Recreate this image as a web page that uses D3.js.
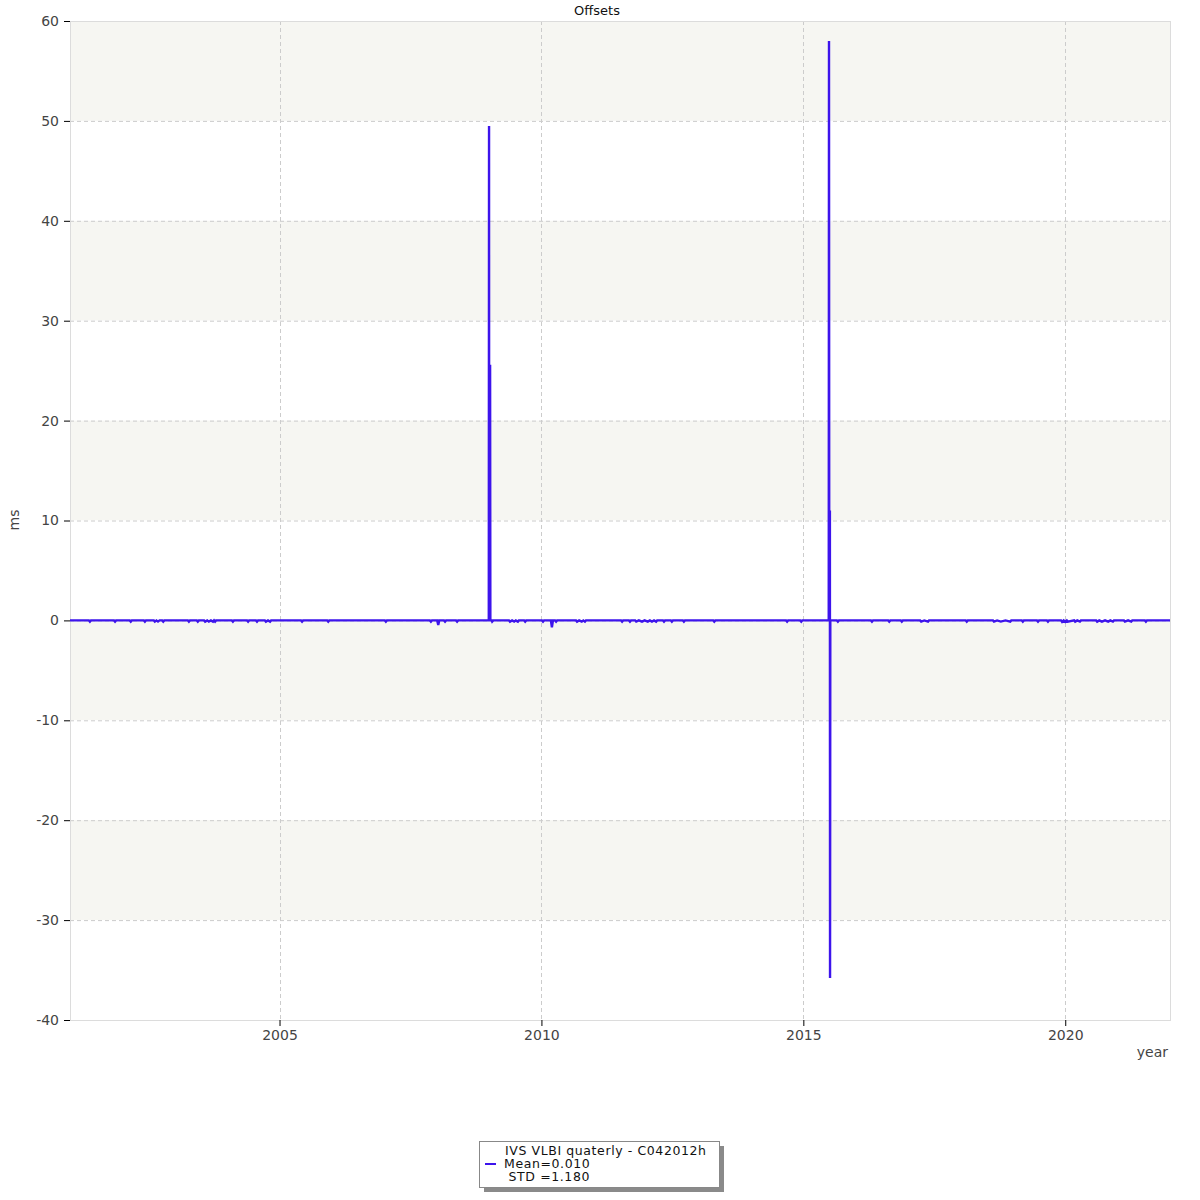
<!DOCTYPE html>
<html><head><meta charset="utf-8">
<script src="https://cdn.jsdelivr.net/npm/d3@7"></script>
<style>body{margin:0;background:#fff}svg{display:block}text{font-family:"DejaVu Sans",Verdana,sans-serif}</style>
</head><body>
<svg id="c" width="1200" height="1200"></svg>
<script>
// Session epochs (decimal year) and offsets (ms)
const sessionYears = [
 2001.00,2001.36,2001.38,2001.40,2001.84,2001.86,2001.88,2002.14,2002.16,2002.18,2002.41,2002.43,2002.45,
 2002.60,2002.62,2002.65,2002.68,2002.71,2002.76,2002.78,2002.80,2003.25,2003.27,2003.29,2003.42,2003.44,2003.46,
 2003.56,2003.58,2003.62,2003.65,2003.69,2003.73,2003.75,2003.77,2003.79,2004.09,2004.11,2004.13,2004.38,2004.40,2004.42,
 2004.55,2004.57,2004.59,2004.72,2004.74,2004.78,2004.82,2004.84,2005.41,2005.43,2005.45,2005.91,2005.93,2005.95,
 2007.01,2007.03,2007.05,2007.87,2007.89,2007.91,2008.01,2008.03,2008.05,2008.14,2008.16,2008.18,2008.37,2008.39,2008.41,
 2008.995,2009.00,2009.002,2009.018,2009.02,2009.025,2009.05,2009.06,2009.08,2009.38,2009.40,2009.44,2009.48,2009.51,2009.55,2009.57,
 2009.67,2009.69,2009.71,2010.01,2010.03,2010.05,2010.18,2010.20,2010.22,2010.26,2010.28,2010.30,
 2010.66,2010.68,2010.72,2010.77,2010.80,2010.83,2010.85,2011.52,2011.54,2011.56,2011.67,2011.69,2011.71,
 2011.79,2011.81,2011.86,2011.92,2011.97,2012.03,2012.07,2012.11,2012.15,2012.19,2012.21,2012.32,2012.34,2012.36,
 2012.47,2012.49,2012.51,2012.70,2012.72,2012.74,2013.28,2013.30,2013.32,2014.67,2014.69,2014.71,2014.94,2014.96,2014.98,
 2015.485,2015.49,2015.495,2015.507,2015.51,2015.515,2015.64,2015.66,2015.68,2016.29,2016.31,2016.33,2016.62,2016.64,2016.66,
 2016.86,2016.88,2016.90,2017.23,2017.25,2017.31,2017.38,2017.40,2018.10,2018.12,2018.14,2018.62,2018.64,2018.70,
 2018.77,2018.86,2018.95,2018.97,2019.17,2019.19,2019.21,2019.46,2019.48,2019.50,2019.65,2019.67,2019.69,
 2019.92,2019.94,2019.97,2020.00,2020.03,2020.05,2020.17,2020.19,2020.23,2020.28,2020.30,2020.59,2020.61,2020.65,
 2020.70,2020.76,2020.82,2020.86,2020.91,2020.93,2021.12,2021.14,2021.20,2021.26,2021.28,2021.52,2021.54,2021.56,2022.00
];
const offsetMs = [
 0,0,-0.12,0,0,-0.12,0,0,-0.12,0,0,-0.12,0,
 0,-0.12,0,-0.12,0,0,-0.12,0,0,-0.12,0,0,-0.12,0,
 0,-0.12,0,-0.12,0,-0.12,0,-0.12,0,0,-0.12,0,0,-0.12,0,
 0,-0.12,0,0,-0.12,0,-0.12,0,0,-0.12,0,0,-0.12,0,
 0,-0.12,0,0,-0.12,0,0,-0.45,0,0,-0.12,0,0,-0.12,0,
 0,49.5,0,0,25.6,0,0,-0.12,0,0,-0.12,0,-0.12,0,-0.12,0,
 0,-0.12,0,0,-0.12,0,0,-0.7,0,0,-0.12,0,
 0,-0.12,0,-0.12,0,-0.12,0,0,-0.12,0,0,-0.12,0,
 0,-0.12,0,-0.12,0,-0.12,0,-0.12,0,-0.12,0,0,-0.12,0,
 0,-0.12,0,0,-0.12,0,0,-0.12,0,0,-0.12,0,0,-0.12,0,
 0,58.0,0,11.0,-35.8,0,0,-0.12,0,0,-0.12,0,0,-0.12,0,
 0,-0.12,0,0,-0.12,0,-0.12,0,0,-0.12,0,0,-0.12,0,
 -0.12,0,-0.12,0,0,-0.12,0,0,-0.12,0,0,-0.12,0,
 0,-0.15,0,-0.15,0,-0.12,0,-0.12,0,-0.12,0,0,-0.12,0,
 -0.12,0,-0.12,0,-0.12,0,0,-0.12,0,-0.12,0,0,-0.12,0,0
];
const yTicks = [60,50,40,30,20,10,0,-10,-20,-30,-40];
const xTicks = [2005,2010,2015,2020];
const titleText = "Offsets";
const legendLines = ["IVS VLBI quaterly - C042012h","Mean=0.010"," STD =1.180"];

const svg = d3.select("#c");
const L=70,R=1170,T=21,B=1020;
const x = d3.scaleLinear().domain([2001,2022]).range([L,R]);
const y = d3.scaleLinear().domain([-40,60]).range([B,T]);
const lineColor = "#3d14ec";

// bands
for(let i=0;i<yTicks.length-1;i++){
  const hi=yTicks[i], lo=yTicks[i+1];
  const shaded = (i%2===0);
  svg.append("rect").attr("x",L).attr("y",y(hi)).attr("width",R-L).attr("height",y(lo)-y(hi))
    .attr("fill", shaded?"#f6f6f2":"#ffffff");
}
// grid
const g = svg.append("g");
yTicks.forEach(v=>{ if(v!==60 && v!==-40) g.append("line").attr("x1",L).attr("x2",R).attr("y1",y(v)+0.5).attr("y2",y(v)+0.5)
  .attr("stroke","#cccccc").attr("stroke-dasharray","4,3"); });
xTicks.forEach(v=>{ g.append("line").attr("x1",Math.round(x(v))+0.5).attr("x2",Math.round(x(v))+0.5).attr("y1",T).attr("y2",B)
  .attr("stroke","#cccccc").attr("stroke-dasharray","4,3"); });
// frame
svg.append("rect").attr("x",L+0.5).attr("y",T+0.5).attr("width",R-L).attr("height",B-T)
  .attr("fill","none").attr("stroke","#dcdcdc");

// axes
const ya = d3.axisLeft(y).tickValues(yTicks).tickFormat(d=>String(d)).tickSize(6).tickPadding(5);
const yg = svg.append("g").attr("transform",`translate(${L},0)`).call(ya);
yg.select(".domain").remove();
yg.selectAll("text").attr("font-size",14).attr("fill","#444").attr("font-family","DejaVu Sans");
yg.selectAll("line").attr("stroke","#000");
const xa = d3.axisBottom(x).tickValues(xTicks).tickFormat(d=>String(d)).tickSize(6).tickPadding(4);
const xg = svg.append("g").attr("transform",`translate(0,${B})`).call(xa);
xg.select(".domain").remove();
xg.selectAll("text").attr("font-size",14).attr("fill","#444").attr("font-family","DejaVu Sans");
xg.selectAll("line").attr("stroke","#000");

// data line
const data = sessionYears.map((t,i)=>[t,offsetMs[i]]);
svg.append("path").datum(data)
  .attr("d", d3.line().x(d=>x(d[0])).y(d=>y(d[1])))
  .attr("fill","none").attr("stroke",lineColor).attr("stroke-width",2.4).attr("stroke-linejoin","miter");

// labels
svg.append("text").attr("x",597).attr("y",15).attr("text-anchor","middle").attr("font-size",13).attr("fill","#111").text(titleText);
svg.append("text").attr("transform","translate(19,520) rotate(-90)").attr("text-anchor","middle").attr("font-size",14).attr("fill","#444").text("ms");
svg.append("text").attr("x",1168).attr("y",1057).attr("text-anchor","end").attr("font-size",14).attr("fill","#444").text("year");

// legend
const lg = svg.append("g");
lg.append("rect").attr("x",484).attr("y",1146).attr("width",240).attr("height",46).attr("fill","#8a8a8a");
lg.append("rect").attr("x",479.5).attr("y",1141.5).attr("width",240).attr("height",46).attr("fill","#fff").attr("stroke","#888");
lg.append("line").attr("x1",485).attr("x2",496).attr("y1",1164).attr("y2",1164).attr("stroke",lineColor).attr("stroke-width",2);
const lx=[505,504,504];
legendLines.forEach((s,i)=>{
  lg.append("text").attr("x",lx[i]).attr("y",1155+i*13).attr("font-size",12.5).attr("letter-spacing","0.6px").attr("fill","#111")
    .attr("xml:space","preserve").style("white-space","pre").text(s);
});
</script>
</body></html>
